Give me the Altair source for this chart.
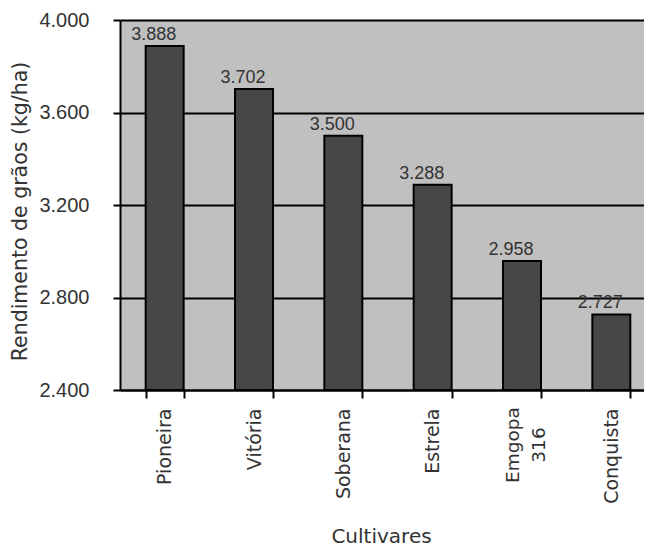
import altair as alt
import pandas as pd

cultivares = ["Pioneira", "Vitória", "Soberana", "Estrela", "Emgopa 316", "Conquista"]
rendimento = [3888, 3702, 3500, 3288, 2958, 2727]
y_ticks = [2400, 2800, 3200, 3600, 4000]

df = pd.DataFrame({"cat": cultivares, "v": rendimento})

FONT = "DejaVu Sans"
NUMFONT = "Liberation Sans"
TXT = "#333333"

x_enc = alt.X(
    "cat:N",
    sort=cultivares,
    scale=alt.Scale(paddingInner=0.575, paddingOuter=0.2875, range=[0, 536]),
    axis=alt.Axis(
        title="Cultivares",
        labelAngle=-90,
        labelExpr="datum.value == 'Emgopa 316' ? '' : datum.value",
        labelFontSize=19,
        labelFont=FONT,
        labelColor=TXT,
        labelPadding=10,
        tickBand="extent",
        tickSize=8,
        tickWidth=2,
        tickColor="black",
        domainColor="black",
        domainWidth=2,
        titleFont=FONT,
        titleFontSize=20,
        titleFontWeight="normal",
        titleColor=TXT,
        titleX=261,
        titleY=152,
        titleBaseline="alphabetic",
        grid=False,
    ),
)

y_enc = alt.Y(
    "v:Q",
    scale=alt.Scale(domain=[2400, 4000], zero=False, nice=False),
    axis=alt.Axis(
        title="Rendimento de grãos (kg/ha)",
        values=y_ticks,
        labelExpr="replace(format(datum.value, ','), ',', '.')",
        labelFontSize=20,
        labelFont=NUMFONT,
        labelColor=TXT,
        labelPadding=24,
        tickSize=7,
        tickWidth=2,
        tickColor="black",
        domainColor="black",
        domainWidth=2,
        grid=True,
        gridColor="black",
        gridWidth=2,
        gridOpacity=1,
        titleFont=FONT,
        titleFontSize=20.5,
        titleFontWeight="normal",
        titleColor=TXT,
        titleX=-100,
        titleY=191,
        titleBaseline="middle",
    ),
)

bars = alt.Chart(df).mark_bar(
    color="#474747", stroke="black", strokeWidth=2
).encode(x=x_enc, y=y_enc, y2=alt.datum(2400))

values = alt.Chart(df).transform_calculate(
    label="replace(format(datum.v, ','), ',', '.')"
).mark_text(
    baseline="alphabetic", dx=-11, dy=-6, fontSize=18, font=NUMFONT, color=TXT
).encode(
    x=alt.X("cat:N", sort=cultivares),
    y=alt.Y("v:Q"),
    text="label:N",
)

emgopa = alt.Chart(df).transform_filter(
    "datum.cat == 'Emgopa 316'"
).transform_calculate(
    label="replace(datum.cat, ' ', '\\n')"
).mark_text(
    angle=270, align="center", baseline="middle", lineBreak="\n",
    lineHeight=26, fontSize=18.5, font=FONT, color=TXT, dy=-9,
).encode(
    x=alt.X("cat:N", sort=cultivares),
    y=alt.value(425),
    text="label:N",
)

chart = alt.layer(bars, values, emgopa).properties(
    width=524,
    height=370,
    autosize=alt.AutoSizeParams(type="none"),
    padding={"left": 112, "top": 12, "right": 0, "bottom": 156},
).configure_view(
    fill="#c0c0c0", stroke=None
)

chart.save("out.html", embed_options={"renderer": "svg", "actions": False})
